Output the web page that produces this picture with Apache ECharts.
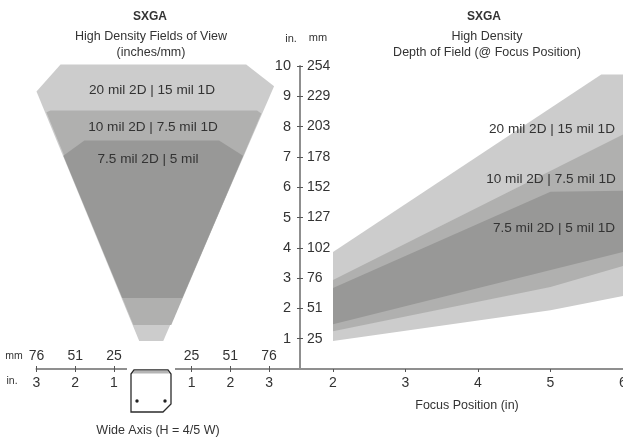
<!DOCTYPE html>
<html><head><meta charset="utf-8">
<style>html,body{margin:0;padding:0;background:#fff}#c{width:623px;height:439px}</style>
<script src="https://cdn.jsdelivr.net/npm/echarts@6/dist/echarts.min.js"></script>
</head><body><div id="c"></div>
<script>
// Field of view outlines: [wide axis inches, height inches]
const fovLight = [[-2.38,10.05],[2.41,10.05],[3.13,9.33],[0.27,0.92],[-0.35,0.92],[-3.0,9.16]];
const fovMedium = [[-2.745,8.47],[-2.64,8.53],[2.69,8.53],[2.80,8.43],[0.477,1.45],[-0.50,1.45]];
const fovDark = [[-1.765,7.54],[1.71,7.54],[2.33,7.04],[0.76,2.34],[-0.786,2.34],[-2.307,7.04]];
// Depth of field edges: [focus position, inches]
const dofLightTop = [[2,3.86],[5.7,9.72],[6,9.72]];
const dofLightBottom = [[2,0.92],[5,1.94],[6,2.41]];
const dofMediumTop = [[2,2.94],[6,7.74]];
const dofMediumBottom = [[2,1.25],[5,2.71],[6,3.40]];
const dofDarkTop = [[2,2.67],[5,5.85],[6,5.88]];
const dofDarkBottom = [[2,1.48],[6,3.86]];
const inchTicks = [1,2,3,4,5,6,7,8,9,10];
const mmTicks = [25,51,76,102,127,152,178,203,229,254];
const wideInches = [-3,-2,-1,1,2,3];
const wideMm = {1:25,2:51,3:76};
const focusTicks = [2,3,4,5,6];
const bandColors = ['#cccccc','#b0b0af','#989897'];
const bandLabels = ['20 mil 2D | 15 mil 1D','10 mil 2D | 7.5 mil 1D','7.5 mil 2D | 5 mil','7.5 mil 2D | 5 mil 1D'];

const FONT = '"Liberation Sans", Arial, sans-serif';
const TXT = '#333333', AX = '#8f8f8f';
const poly = (pts, color, xi, yi) => ({
  type:'custom', coordinateSystem:'cartesian2d', xAxisIndex:xi, yAxisIndex:yi, silent:true, clip:false, data:[0],
  renderItem:(p,api)=>({type:'polygon',shape:{points:pts.map(q=>api.coord(q))},style:{fill:color}})
});
const band = (top,bottom)=>top.concat(bottom.slice().reverse());
const t = (x,y,text,o={}) => ({type:'text',x,y,z:20,style:Object.assign({text,fill:TXT,font:'12.5px '+FONT,textAlign:'center',textVerticalAlign:'middle'},o)});
const LBL = '13.6px '+FONT;

const chart = echarts.init(document.getElementById('c'),null,{renderer:'canvas'});
chart.setOption({
  animation:false, backgroundColor:'#fff',
  grid:[
    {left:36.5,width:296.5,top:66,height:303,outerBoundsMode:'none'},
    {left:333,width:290,top:66,height:303,outerBoundsMode:'none'}
  ],
  xAxis:[
    {gridIndex:0,type:'value',min:-3,max:4.65,position:'bottom',
      axisLine:{lineStyle:{color:AX,width:2}},splitLine:{show:false},
      axisTick:{length:3,lineStyle:{color:'#555'},customValues:wideInches},
      axisLabel:{fontFamily:FONT,fontSize:14,color:TXT,margin:7,customValues:wideInches,formatter:v=>String(Math.abs(v))}},
    {gridIndex:0,type:'value',min:-3,max:4.65,position:'bottom',
      axisLine:{show:false},splitLine:{show:false},
      axisTick:{inside:true,length:3,lineStyle:{color:'#555'},customValues:wideInches},
      axisLabel:{inside:true,fontFamily:FONT,fontSize:14,color:TXT,margin:6,customValues:wideInches,formatter:v=>String(wideMm[Math.abs(v)])}},
    {gridIndex:1,type:'value',min:2,max:6,interval:1,position:'bottom',
      axisLine:{lineStyle:{color:AX,width:2}},splitLine:{show:false},
      axisTick:{length:3,lineStyle:{color:'#555'}},
      axisLabel:{fontFamily:FONT,fontSize:14,color:TXT,margin:7,hideOverlap:false,showMaxLabel:true,alignMaxLabel:'center',formatter:v=>focusTicks.includes(v)?String(v):''}}
  ],
  yAxis:[
    {gridIndex:0,type:'value',min:0,max:10,show:false},
    {gridIndex:1,type:'value',min:0,max:10,interval:1,position:'left',offset:33,
      axisLine:{show:true,lineStyle:{color:AX,width:2}},splitLine:{show:false},
      axisTick:{show:true,length:3,lineStyle:{color:'#555'},customValues:inchTicks},
      axisLabel:{fontFamily:FONT,fontSize:14.5,color:TXT,margin:9,customValues:inchTicks}},
    {gridIndex:1,type:'value',min:0,max:10,interval:1,position:'left',offset:33,
      axisLine:{show:false},splitLine:{show:false},
      axisTick:{show:true,inside:true,length:3,lineStyle:{color:'#555'},customValues:inchTicks},
      axisLabel:{inside:true,fontFamily:FONT,fontSize:14,color:TXT,margin:7,customValues:inchTicks,formatter:v=>String(mmTicks[inchTicks.indexOf(v)])}}
  ],
  series:[
    poly(fovLight,bandColors[0],0,0), poly(fovMedium,bandColors[1],0,0), poly(fovDark,bandColors[2],0,0),
    poly(band(dofLightTop,dofLightBottom),bandColors[0],2,1),
    poly(band(dofMediumTop,dofMediumBottom),bandColors[1],2,1),
    poly(band(dofDarkTop,dofDarkBottom),bandColors[2],2,1)
  ],
  graphic:[
    t(150,17,'SXGA',{font:'bold 12px '+FONT}),
    t(151,37,'High Density Fields of View'),
    t(151,53,'(inches/mm)'),
    t(484,17,'SXGA',{font:'bold 12px '+FONT}),
    t(487,37,'High Density'),
    t(487,53,'Depth of Field (@ Focus Position)'),
    t(291,39,'in.',{font:'11px '+FONT}),
    t(318,38,'mm',{font:'11px '+FONT}),
    t(14,356,'mm',{font:'10.5px '+FONT}),
    t(12,381,'in.',{font:'10.5px '+FONT}),
    t(152,90,bandLabels[0],{font:LBL}),
    t(153,127,bandLabels[1],{font:LBL}),
    t(148,159,bandLabels[2],{font:LBL}),
    t(552,129,bandLabels[0],{font:LBL}),
    t(551,179,bandLabels[1],{font:LBL}),
    t(554,228,bandLabels[3],{font:LBL}),
    t(467,406,'Focus Position (in)'),
    t(158,431,'Wide Axis (H = 4/5 W)'),
    {type:'rect',z:19,shape:{x:127,y:360,width:48,height:12},style:{fill:'#fff'}},
    {type:'polygon',z:20,shape:{points:[[131,374],[134,370],[168,370],[171,374],[171,404],[163,412],[131,412]]},style:{fill:'#fff',stroke:'#2b2b2b',lineWidth:1.3}},
    {type:'polygon',z:21,shape:{points:[[132.5,373.5],[134.5,370.5],[167.5,370.5],[169.5,373.5]]},style:{fill:'#b5b5b5'}},
    {type:'circle',z:20,shape:{cx:137,cy:401,r:1.7},style:{fill:'#222'}},
    {type:'circle',z:20,shape:{cx:165,cy:401,r:1.7},style:{fill:'#222'}}
  ]
});
</script></body></html>
